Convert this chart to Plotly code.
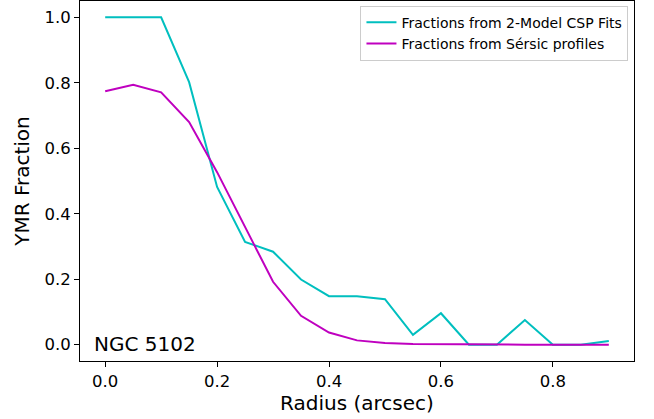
import plotly.graph_objects as go

radius = [0.0, 0.05, 0.1, 0.15, 0.2, 0.25, 0.3, 0.35, 0.4, 0.45, 0.5, 0.55, 0.6, 0.65, 0.7, 0.75, 0.8, 0.85, 0.9]
csp_fraction = [1.0, 1.0, 1.0, 0.802, 0.482, 0.314, 0.284, 0.199, 0.148, 0.148, 0.139, 0.03, 0.096, 0.0, 0.0, 0.075, 0.0, 0.0, 0.011]
sersic_fraction = [0.774, 0.794, 0.771, 0.68, 0.527, 0.358, 0.192, 0.088, 0.037, 0.013, 0.005, 0.002, 0.001, 0.0, 0.0, 0.0, 0.0, 0.0, 0.0]

x_ticks = [0.0, 0.2, 0.4, 0.6, 0.8]
y_ticks = [0.0, 0.2, 0.4, 0.6, 0.8, 1.0]

font_family = "DejaVu Sans"

fig = go.Figure()
fig.add_trace(go.Scatter(x=radius, y=csp_fraction, mode="lines",
                         line=dict(color="#00BFBF", width=2),
                         name="Fractions from 2-Model CSP Fits"))
fig.add_trace(go.Scatter(x=radius, y=sersic_fraction, mode="lines",
                         line=dict(color="#BF00BF", width=2),
                         name="Fractions from Sérsic profiles"))

axis_common = dict(showline=True, linecolor="black", linewidth=1, mirror=True,
                   ticks="outside", ticklen=5, tickwidth=1, tickcolor="black",
                   showgrid=False, zeroline=False, automargin=False,
                   tickfont=dict(family=font_family, size=16.5, color="black"))

fig.update_xaxes(range=[-0.045, 0.945], tickvals=x_ticks,
                 ticktext=[f"{v:.1f}" for v in x_ticks],
                 title=dict(text="Radius (arcsec)", font=dict(family=font_family, size=20, color="black"), standoff=6),
                 **axis_common)
fig.update_yaxes(range=[-0.05, 1.05], tickvals=y_ticks,
                 ticktext=[f"{v:.1f}" for v in y_ticks],
                 title=dict(text="YMR Fraction", font=dict(family=font_family, size=20, color="black"), standoff=9),
                 **axis_common)

fig.add_annotation(text="NGC 5102", xref="paper", yref="paper", x=0.022, y=0.008,
                   xanchor="left", yanchor="bottom", showarrow=False,
                   font=dict(family=font_family, size=20, color="black"))

fig.update_layout(
    width=654, height=419,
    margin=dict(l=80, r=20, t=1, b=58, autoexpand=False),
    paper_bgcolor="white", plot_bgcolor="white",
    font=dict(family=font_family, color="black"),
    legend=dict(x=0.99, y=0.987, xanchor="right", yanchor="top",
                bgcolor="rgba(255,255,255,0.8)", bordercolor="#CCCCCC", borderwidth=1,
                font=dict(family=font_family, size=14, color="black"),
                tracegroupgap=0, itemwidth=30),
    showlegend=True,
)

fig.write_html("out.html", config={"displayModeBar": False},
               post_script="document.body.style.margin='0';document.body.style.overflow='hidden';")
